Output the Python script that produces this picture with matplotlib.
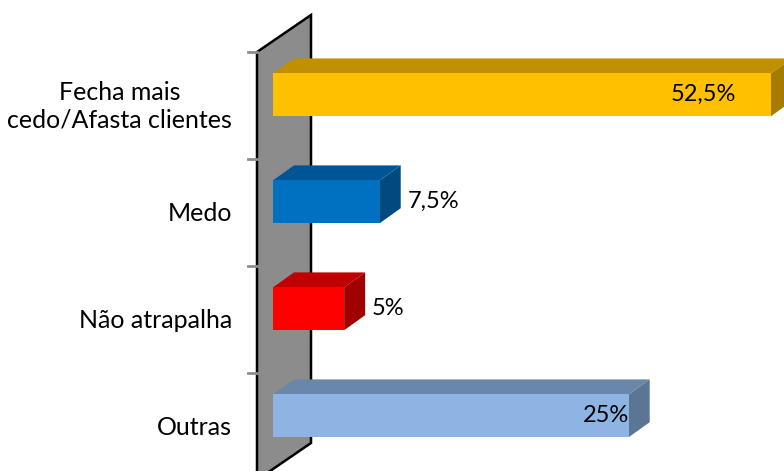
import matplotlib
matplotlib.use("Agg")
import matplotlib.pyplot as plt
from matplotlib.patches import Polygon

plt.rcParams['font.family'] = ['Lato', 'DejaVu Sans']

# Dados
categorias = ["Fecha mais\ncedo/Afasta clientes", "Medo", "Não atrapalha", "Outras"]
valores = [52.5, 7.5, 5, 25]
rotulos = ["52,5%", "7,5%", "5%", "25%"]
cor_frente = ["#FFC000", "#0070C0", "#FF0000", "#8DB4E2"]
cor_topo = ["#C09000", "#005596", "#C00000", "#6A87AA"]
cor_lado = ["#A57C00", "#004A80", "#A00000", "#5B7595"]
dentro = [True, False, False, True]

xmax = 35

fig = plt.figure(figsize=(7.84, 4.71), dpi=100)
ax = fig.add_axes([273 / 784, 1 - 480 / 471, 498 / 784, 428 / 471])
ax.set_xlim(0, xmax)
ax.set_ylim(3.5, -0.5)
ax.axis("off")

# profundidade do efeito 3D, em unidades dos eixos
px_x = 498 / xmax
px_y = 107
dx, dy = 21 / px_x, 15 / px_y

# parede lateral
wx0 = -16 / px_x
wdx, wdy = 54 / px_x, 37 / px_y
parede = Polygon([(wx0, -0.5), (wx0 + wdx, -0.5 - wdy),
                  (wx0 + wdx, 3.5 - wdy), (wx0, 3.5)],
                 closed=True, facecolor="#8C8C8C", edgecolor="black",
                 lw=1.8, clip_on=False, zorder=1)
ax.add_patch(parede)
for yt in [-0.5, 0.5, 1.5, 2.5]:
    ax.plot([wx0 - 9 / px_x, wx0], [yt, yt], color="#8C8C8C", lw=2,
            clip_on=False, zorder=1)

for i, v in enumerate(valores):
    fim = min(v, xmax)
    topo, base = i - 0.30, i + 0.10
    ax.barh(i - 0.10, fim, height=0.40, color=cor_frente[i], zorder=3)
    ax.add_patch(Polygon([(0, topo), (fim, topo), (fim + dx, topo - dy), (dx, topo - dy)],
                         closed=True, facecolor=cor_topo[i], lw=0, clip_on=False, zorder=2))
    ax.add_patch(Polygon([(fim, topo), (fim + dx, topo - dy), (fim + dx, base - dy), (fim, base)],
                         closed=True, facecolor=cor_lado[i], lw=0, clip_on=False, zorder=2))
    if dentro[i]:
        ax.annotate(rotulos[i], (fim, i - 0.10), xytext=(-25 if v > xmax else 0, 0),
                    textcoords="offset points", ha="right", va="center",
                    fontsize=17, clip_on=False, zorder=4)
    else:
        ax.annotate(rotulos[i], (fim + dx, i - 0.10), xytext=(5, 0),
                    textcoords="offset points", ha="left", va="center",
                    fontsize=17, clip_on=False, zorder=4)
    ax.text(-41 / px_x, i + 0.01, categorias[i], ha="right", va="center",
            multialignment="center", fontsize=18, linespacing=1.25, clip_on=False)

fig.savefig("out.png", dpi=100)
